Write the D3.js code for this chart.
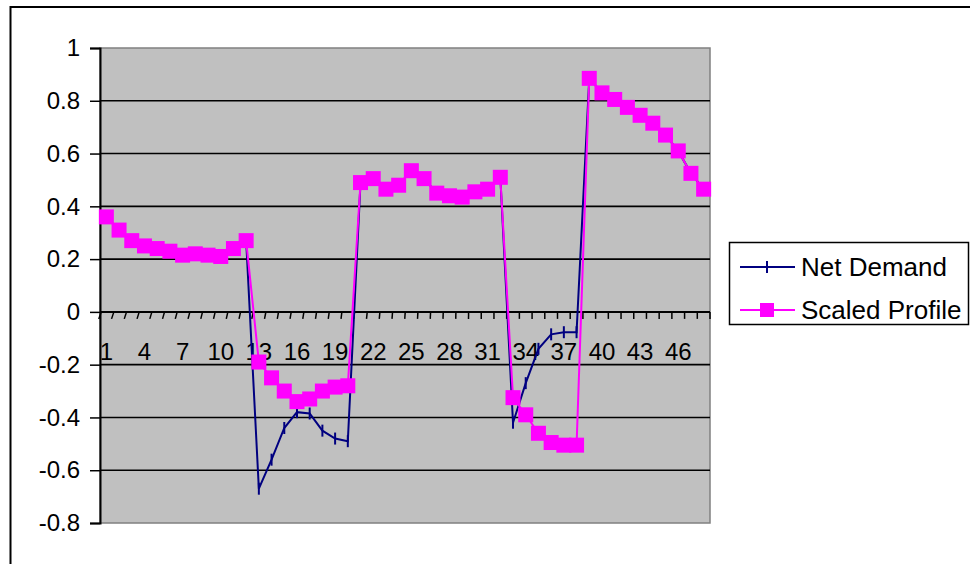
<!DOCTYPE html>
<html>
<head>
<meta charset="utf-8">
<script src="https://cdn.jsdelivr.net/npm/d3@7"></script>
<style>
  body { margin: 0; background: #fff; }
  text { font-family: "Liberation Sans", Arial, sans-serif; fill: #000; }
</style>
</head>
<body>
<svg id="chartSVG" width="970" height="564"></svg>
<script>
// categories 1..48 (half hours), labels shown every 3rd one
const categories = d3.range(1, 49);
const xTickLabels = [1, 4, 7, 10, 13, 16, 19, 22, 25, 28, 31, 34, 37, 40, 43, 46];
const yTicks = [-0.8, -0.6, -0.4, -0.2, 0, 0.2, 0.4, 0.6, 0.8, 1];

const netDemand = [
  0.36, 0.31, 0.27, 0.25, 0.24, 0.23, 0.215, 0.22, 0.215, 0.21, 0.24, 0.27,
  -0.67, -0.56, -0.44, -0.38, -0.385, -0.45, -0.48, -0.49,
  0.49, 0.505, 0.465, 0.48, 0.535, 0.505, 0.45, 0.44, 0.435, 0.455, 0.465, 0.51,
  -0.42, -0.27, -0.14, -0.085, -0.077, -0.077,
  0.885, 0.83, 0.805, 0.775, 0.745, 0.715, 0.67, 0.61, 0.525, 0.465
];

const scaledProfile = [
  0.36, 0.31, 0.27, 0.25, 0.24, 0.23, 0.215, 0.22, 0.215, 0.21, 0.24, 0.27,
  -0.19, -0.25, -0.30, -0.34, -0.33, -0.30, -0.285, -0.28,
  0.49, 0.505, 0.465, 0.48, 0.535, 0.505, 0.45, 0.44, 0.435, 0.455, 0.465, 0.51,
  -0.325, -0.39, -0.46, -0.495, -0.505, -0.505,
  0.885, 0.83, 0.805, 0.775, 0.745, 0.715, 0.67, 0.61, 0.525, 0.465
];

const seriesNames = ["Net Demand", "Scaled Profile"];
const seriesColors = ["#000080", "#ff00ff"];

const svg = d3.select("#chartSVG");
const plot = { left: 100, top: 48, right: 710, bottom: 523 };

// outer chart frame (runs off the right and bottom of the picture)
svg.append("rect")
  .attr("x", 10.5).attr("y", 7)
  .attr("width", 1000).attr("height", 600)
  .attr("fill", "none")
  .attr("stroke", "#000")
  .attr("stroke-width", 2);

const xScale = d3.scaleBand()
  .domain(categories)
  .range([plot.left, plot.right]);

const yScale = d3.scaleLinear()
  .domain([-0.8, 1])
  .range([plot.bottom, plot.top]);

// grey plot area
svg.append("rect")
  .attr("x", plot.left).attr("y", plot.top)
  .attr("width", plot.right - plot.left)
  .attr("height", plot.bottom - plot.top)
  .attr("fill", "#c0c0c0")
  .attr("stroke", "#808080")
  .attr("stroke-width", 1.5);

// gridlines
svg.append("g")
  .selectAll("line")
  .data(yTicks.filter(d => d !== -0.8 && d !== 1))
  .join("line")
  .attr("x1", plot.left).attr("x2", plot.right)
  .attr("y1", d => yScale(d)).attr("y2", d => yScale(d))
  .attr("stroke", "#000")
  .attr("stroke-width", 1.6);

// y axis, plain hyphen for negatives like the original
const yAxis = svg.append("g")
  .attr("transform", `translate(${plot.left},0)`)
  .call(d3.axisLeft(yScale).tickValues(yTicks).tickSize(10).tickPadding(10)
    .tickFormat(d => String(+d.toFixed(1))));
yAxis.select(".domain").attr("stroke-width", 2);
yAxis.selectAll(".tick line").attr("stroke-width", 1.5);
yAxis.selectAll(".tick text")
  .style("font-family", '"Liberation Sans", Arial, sans-serif')
  .style("font-size", "24px");

// x axis on the zero line, ticks between categories
const zeroY = yScale(0);
svg.append("line")
  .attr("x1", plot.left).attr("x2", plot.right)
  .attr("y1", zeroY).attr("y2", zeroY)
  .attr("stroke", "#000").attr("stroke-width", 2);

const boundaries = d3.range(0, categories.length + 1);
svg.append("g")
  .selectAll("line")
  .data(boundaries)
  .join("line")
  .attr("x1", i => plot.left + i * xScale.step() + Math.max(0, 1.2 * (1 - i / 30)))
  .attr("x2", i => plot.left + i * xScale.step() - Math.max(0, 1.2 * (1 - i / 30)))
  .attr("y1", zeroY)
  .attr("y2", zeroY + 7)
  .attr("stroke", "#000")
  .attr("stroke-width", 1.5);

svg.append("g")
  .selectAll("text")
  .data(xTickLabels)
  .join("text")
  .attr("x", d => xScale(d) + xScale.bandwidth() / 2)
  .attr("y", zeroY + 48)
  .attr("text-anchor", "middle")
  .style("font-size", "24px")
  .text(d => d);

// lines and markers
const line = d3.line()
  .x((d, i) => xScale(categories[i]) + xScale.bandwidth() / 2)
  .y(d => yScale(d));

svg.append("path")
  .datum(netDemand)
  .attr("d", line)
  .attr("fill", "none")
  .attr("stroke", seriesColors[0])
  .attr("stroke-width", 2);

svg.append("g")
  .selectAll("line")
  .data(netDemand)
  .join("line")
  .attr("x1", (d, i) => xScale(categories[i]) + xScale.bandwidth() / 2)
  .attr("x2", (d, i) => xScale(categories[i]) + xScale.bandwidth() / 2)
  .attr("y1", d => yScale(d) - 6)
  .attr("y2", d => yScale(d) + 6)
  .attr("stroke", seriesColors[0])
  .attr("stroke-width", 2);

svg.append("path")
  .datum(scaledProfile)
  .attr("d", line)
  .attr("fill", "none")
  .attr("stroke", seriesColors[1])
  .attr("stroke-width", 2);

const sq = 15;
svg.append("g")
  .selectAll("rect")
  .data(scaledProfile)
  .join("rect")
  .attr("x", (d, i) => xScale(categories[i]) + xScale.bandwidth() / 2 - sq / 2)
  .attr("y", d => yScale(d) - sq / 2)
  .attr("width", sq).attr("height", sq)
  .attr("fill", seriesColors[1]);

// legend
const legend = svg.append("g");
legend.append("rect")
  .attr("x", 729.5).attr("y", 242.5)
  .attr("width", 239).attr("height", 82)
  .attr("fill", "#fff")
  .attr("stroke", "#000")
  .attr("stroke-width", 1.5);

const legendRows = [267, 310];
seriesNames.forEach((name, i) => {
  const y = legendRows[i];
  legend.append("line")
    .attr("x1", 740).attr("x2", 795)
    .attr("y1", y).attr("y2", y)
    .attr("stroke", seriesColors[i])
    .attr("stroke-width", 2);
  if (i === 0) {
    legend.append("line")
      .attr("x1", 767).attr("x2", 767)
      .attr("y1", y - 6).attr("y2", y + 6)
      .attr("stroke", seriesColors[i])
      .attr("stroke-width", 2);
  } else {
    legend.append("rect")
      .attr("x", 760).attr("y", y - 7)
      .attr("width", 14).attr("height", 14)
      .attr("fill", seriesColors[i]);
  }
  legend.append("text")
    .attr("x", 801).attr("y", y)
    .attr("dy", "0.35em")
    .style("font-size", "26px")
    .text(name);
});
</script>
</body>
</html>
